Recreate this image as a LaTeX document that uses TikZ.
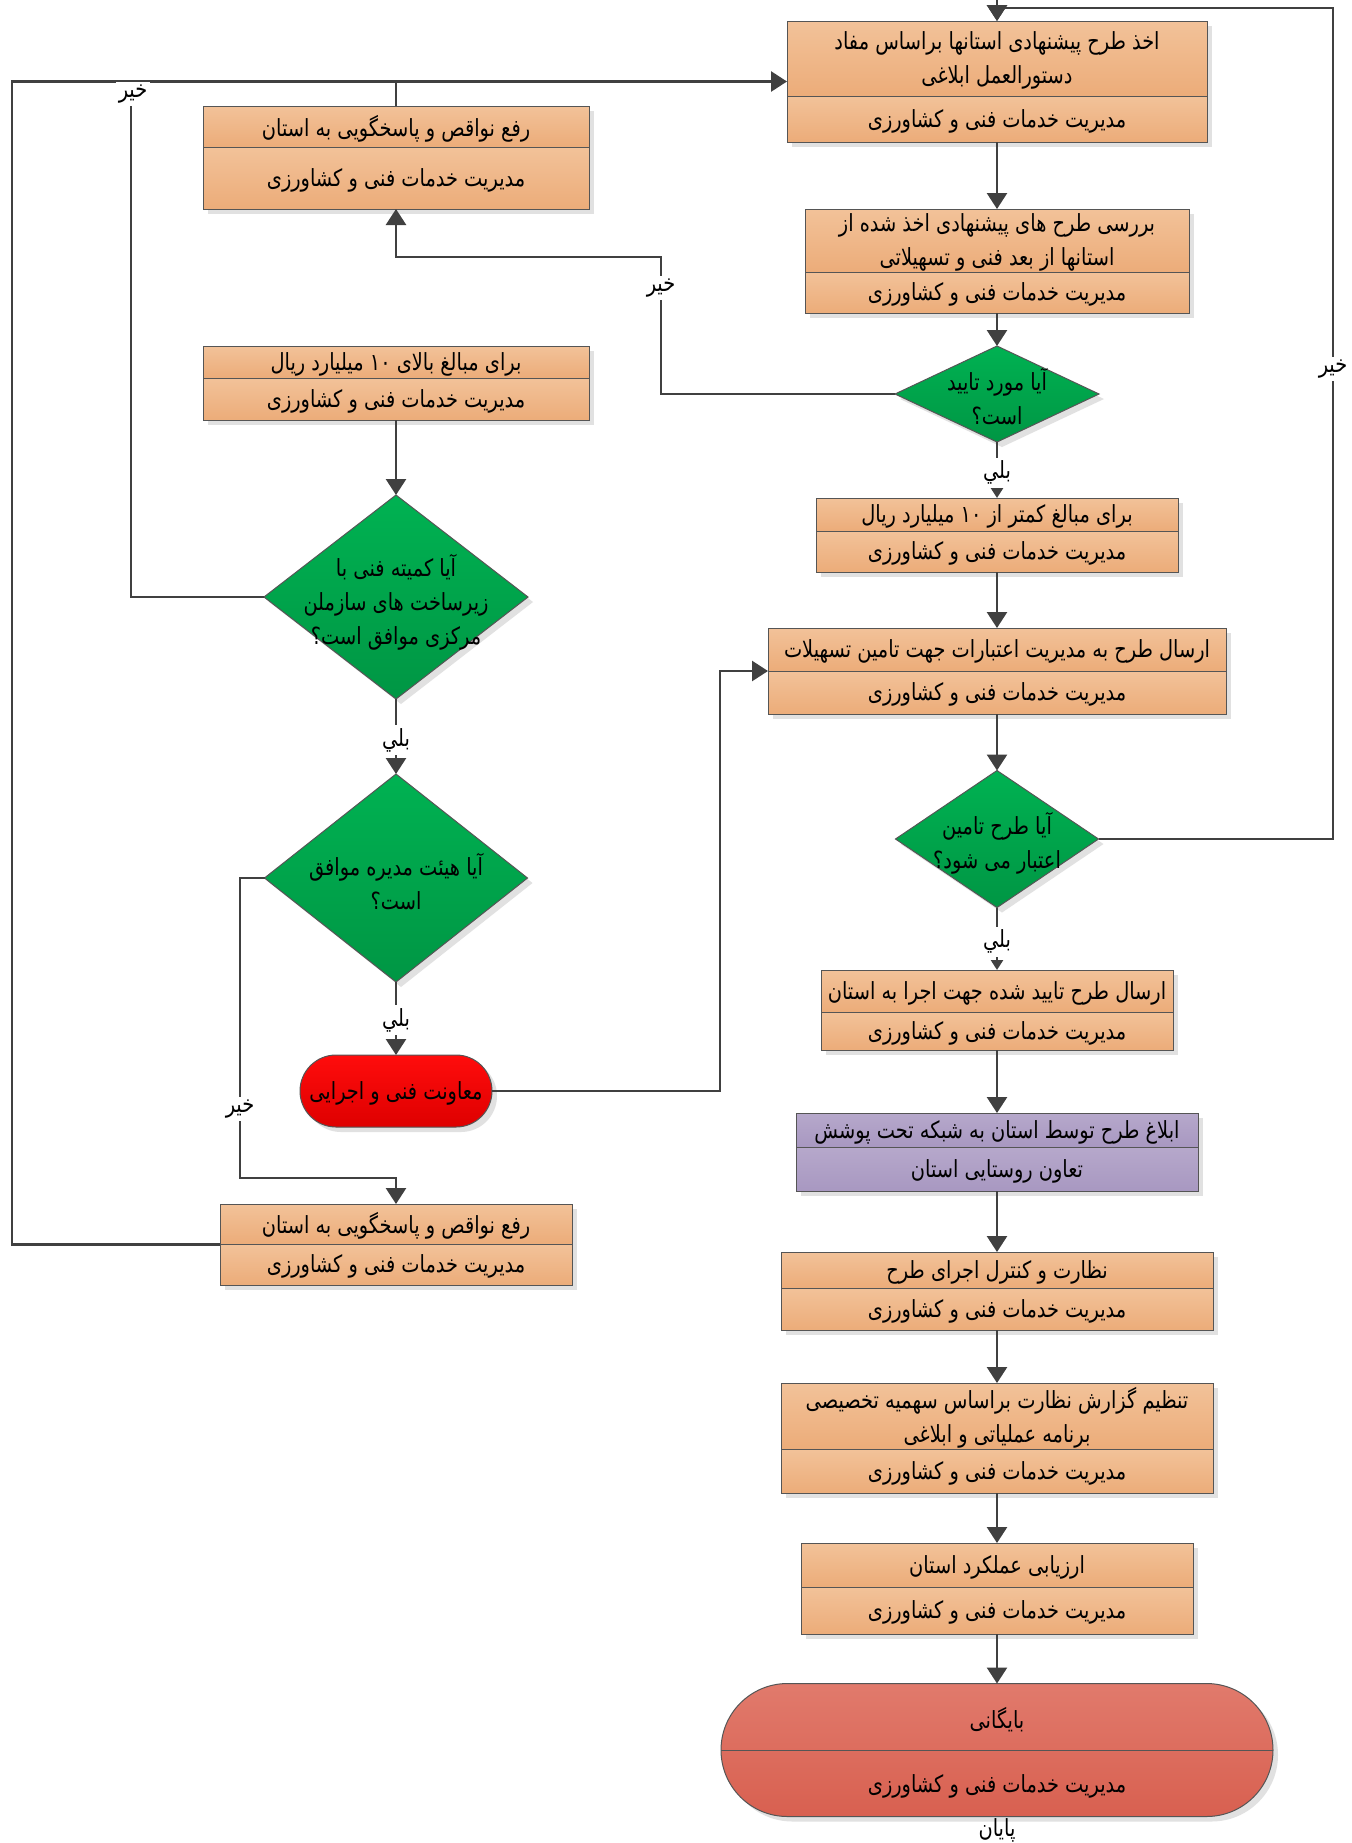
\documentclass[tikz,border=0pt]{standalone}
\usepackage{fontspec}
\newfontfamily\arabicfont[Script=Arabic,FakeStretch=0.82]{DejaVu Sans}
\TeXXeTstate=1
\usetikzlibrary{arrows.meta,shapes.geometric,shapes.misc,shadows}
\definecolor{lineC}{RGB}{64,64,64}
\definecolor{edgeC}{RGB}{85,85,85}
\definecolor{shadowC}{RGB}{225,225,225}
\definecolor{boxTop}{RGB}{242,194,153}
\definecolor{boxBot}{RGB}{236,172,121}
\definecolor{purTop}{RGB}{182,168,203}
\definecolor{purBot}{RGB}{168,152,193}
\definecolor{greenTop}{RGB}{0,178,82}
\definecolor{greenBot}{RGB}{0,150,68}
\definecolor{redTop}{RGB}{255,12,12}
\definecolor{redBot}{RGB}{222,0,0}
\definecolor{endTop}{RGB}{225,122,108}
\definecolor{endBot}{RGB}{216,96,80}
\newcommand\rtxt[1]{\beginR #1\endR}
\tikzset{
  conn/.style={draw=lineC, line width=1.35pt},
  arr/.style={conn, -{Triangle[length=8pt,width=10pt]}},
  sarr/.style={conn, -{Triangle[length=5pt,width=6pt]}},
  shadowed/.style={drop shadow={shadow xshift=2.5pt, shadow yshift=-2.5pt, fill=shadowC, opacity=1}},
  boxshape/.style={rectangle, draw=edgeC, line width=0.5pt, inner sep=0pt, outer sep=0pt, fill=white, shadowed},
  txt/.style={font=\arabicfont\fontsize{11.8}{17}\selectfont, align=center, inner sep=0pt, text=black, yshift=-1pt},
  lbl/.style={txt, fill=white, inner sep=1.5pt, yshift=1pt},
  dia/.style={diamond, draw=edgeC, line width=0.5pt, inner sep=0pt, outer sep=0pt, top color=greenTop, bottom color=greenBot, shadowed},
  term/.style={rounded rectangle, draw=edgeC, line width=0.5pt, inner sep=0pt, outer sep=0pt, shadowed},
}
\newcommand\flowbox[9]{%
  \node[boxshape, minimum width={(#4-#2)*0.5pt}, minimum height={(#5-#3)*0.5pt}] (#1) at ({(#2+#4)/2},{(#3+#5)/2}) {};
  \shade[top color=#9Top, bottom color=#9Bot] (#2,#3) rectangle (#4,#6);
  \shade[top color=#9Top, bottom color=#9Bot] (#2,#6) rectangle (#4,#5);
  \draw[edgeC, line width=0.5pt] (#2,#3) rectangle (#4,#5);
  \draw[edgeC, line width=0.5pt] (#2,#6) -- (#4,#6);
  \node[txt] (#1t) at ({(#2+#4)/2},{(#3+#6)/2}) {#7};
  \node[txt] (#1b) at ({(#2+#4)/2},{(#6+#5)/2}) {#8};
}
\begin{document}
\begin{tikzpicture}[x=0.5pt,y=-0.5pt]
\fill[white] (0,0) rectangle (1351,1843);
\useasboundingbox (0,0) rectangle (1351,1843);

% right column
\flowbox{b1}{787}{21}{1207}{142}{96}{\rtxt{اخذ طرح پیشنهادی استانها براساس مفاد}\\\rtxt{دستورالعمل ابلاغی}}{\rtxt{مدیریت خدمات فنی و کشاورزی}}{box}
\flowbox{b2}{805}{209}{1189}{313}{272}{\rtxt{بررسی طرح های پیشنهادی اخذ شده از}\\\rtxt{استانها از بعد فنی و تسهیلاتی}}{\rtxt{مدیریت خدمات فنی و کشاورزی}}{box}
\node[dia, minimum width=102pt, minimum height=48pt] (d1) at (997,394) {};
\node[txt] (d1t) at (997,395) {\rtxt{آیا مورد تایید}\\\rtxt{است؟}};
\flowbox{b3}{816}{498}{1178}{572}{531}{\rtxt{برای مبالغ کمتر از ۱۰ میلیارد ریال}}{\rtxt{مدیریت خدمات فنی و کشاورزی}}{box}
\flowbox{b4}{768}{628}{1226}{714}{671}{\rtxt{ارسال طرح به مدیریت اعتبارات جهت تامین تسهیلات}}{\rtxt{مدیریت خدمات فنی و کشاورزی}}{box}
\node[dia, minimum width=101.5pt, minimum height=68.5pt] (d2) at (997,839) {};
\node[txt] (d2t) at (997,841) {\rtxt{آیا طرح تامین}\\\rtxt{اعتبار می شود؟}};
\flowbox{b5}{821}{970}{1173}{1050}{1012}{\rtxt{ارسال طرح تایید شده جهت اجرا به استان}}{\rtxt{مدیریت خدمات فنی و کشاورزی}}{box}
\flowbox{p}{796}{1113}{1198}{1191}{1147}{\rtxt{ابلاغ طرح توسط استان به شبکه تحت پوشش}}{\rtxt{تعاون روستایی استان}}{pur}
\flowbox{b6}{781}{1252}{1213}{1330}{1288}{\rtxt{نظارت و کنترل اجرای طرح}}{\rtxt{مدیریت خدمات فنی و کشاورزی}}{box}
\flowbox{b7}{781}{1383}{1213}{1493}{1449}{\rtxt{تنظیم گزارش نظارت براساس سهمیه تخصیصی}\\\rtxt{برنامه عملیاتی و ابلاغی}}{\rtxt{مدیریت خدمات فنی و کشاورزی}}{box}
\flowbox{b8}{801}{1543}{1193}{1634}{1587}{\rtxt{ارزیابی عملکرد استان}}{\rtxt{مدیریت خدمات فنی و کشاورزی}}{box}
\node[term, top color=endTop, bottom color=endBot, minimum width=276pt, minimum height=66.5pt] (end) at (997,1750) {};
\draw[edgeC, line width=0.5pt] (end.west) -- (end.east);
\node[txt] (endt) at (997,1718) {\rtxt{بایگانی}};
\node[txt] (endb) at (997,1784) {\rtxt{مدیریت خدمات فنی و کشاورزی}};
\node[txt] (fin) at (997,1828) {\rtxt{پایان}};

% left column
\flowbox{L1}{203}{106}{589}{209}{147}{\rtxt{رفع نواقص و پاسخگویی به استان}}{\rtxt{مدیریت خدمات فنی و کشاورزی}}{box}
\flowbox{L2}{203}{346}{589}{420}{378}{\rtxt{برای مبالغ بالای ۱۰ میلیارد ریال}}{\rtxt{مدیریت خدمات فنی و کشاورزی}}{box}
\node[dia, minimum width=132pt, minimum height=102pt] (dl1) at (396,597) {};
\node[txt] (dl1t) at (396,600) {\rtxt{آیا کمیته فنی با}\\\rtxt{زیرساخت های سازملن}\\\rtxt{مرکزی موافق است؟}};
\node[dia, minimum width=131.5pt, minimum height=104pt] (dl2) at (396,878) {};
\node[txt] (dl2t) at (396,880) {\rtxt{آیا هیئت مدیره موافق}\\\rtxt{است؟}};
\node[term, top color=redTop, bottom color=redBot, minimum width=96pt, minimum height=36pt] (red) at (396,1091) {};
\node[txt] (redt) at (396,1091) {\rtxt{معاونت فنی و اجرایی}};
\flowbox{L4}{220}{1204}{572}{1285}{1244}{\rtxt{رفع نواقص و پاسخگویی به استان}}{\rtxt{مدیریت خدمات فنی و کشاورزی}}{box}

% connectors
\coordinate (start) at (997,0);
\coordinate (cA) at (12,600);
\coordinate (cB) at (131,0);
\coordinate (cC) at (661,257);
\coordinate (cD) at (1333,8);
\coordinate (cE) at (720,900);
\coordinate (cF) at (240,1178);

\draw[arr] (start) -- (b1.north);
\draw[arr] (b1.south) -- (b2.north);
\draw[arr] (b2.south) -- (d1.north);
\draw[sarr] (d1.south) -- node[lbl,pos=0.55] (y1) {\rtxt{بلي}} (b3.north);
\draw[arr] (b3.south) -- (b4.north);
\draw[arr] (b4.south) -- (d2.north);
\draw[sarr] (d2.south) -- node[lbl,pos=0.55] (y2) {\rtxt{بلي}} (b5.north);
\draw[arr] (b5.south) -- (p.north);
\draw[arr] (p.south) -- (b6.north);
\draw[arr] (b6.south) -- (b7.north);
\draw[arr] (b7.south) -- (b8.north);
\draw[arr] (b8.south) -- (end.north);

\draw[arr] (L2.south) -- (dl1.north);
\draw[arr] (dl1.south) -- node[lbl,pos=0.55] (y3) {\rtxt{بلي}} (dl2.north);
\draw[arr] (dl2.south) -- node[lbl,pos=0.52] (y4) {\rtxt{بلي}} (red.north);

\draw[arr] (L4.west) -| (cA) |- (b1.west);
\draw[conn] (L1.north) -- (L1.north |- b1.west);
\draw[conn] (dl1.west) -| (cB |- b1.west);
\node[lbl] (nB) at (133,94) {\rtxt{خير}};
\draw[arr] (d1.west) -| (cC) -| (L1.south);
\node[lbl] (nC) at (661,288) {\rtxt{خير}};
\draw[arr] (d2.east) -| (cD) -| (b1.north);
\node[lbl] (nD) at (1333,369) {\rtxt{خير}};
\draw[arr] (red.east) -| (cE) |- (b4.west);
\draw[arr] (dl2.west) -| (cF) -| (L4.north);
\node[lbl] (nF) at (240,1109) {\rtxt{خير}};
\end{tikzpicture}
\end{document}
